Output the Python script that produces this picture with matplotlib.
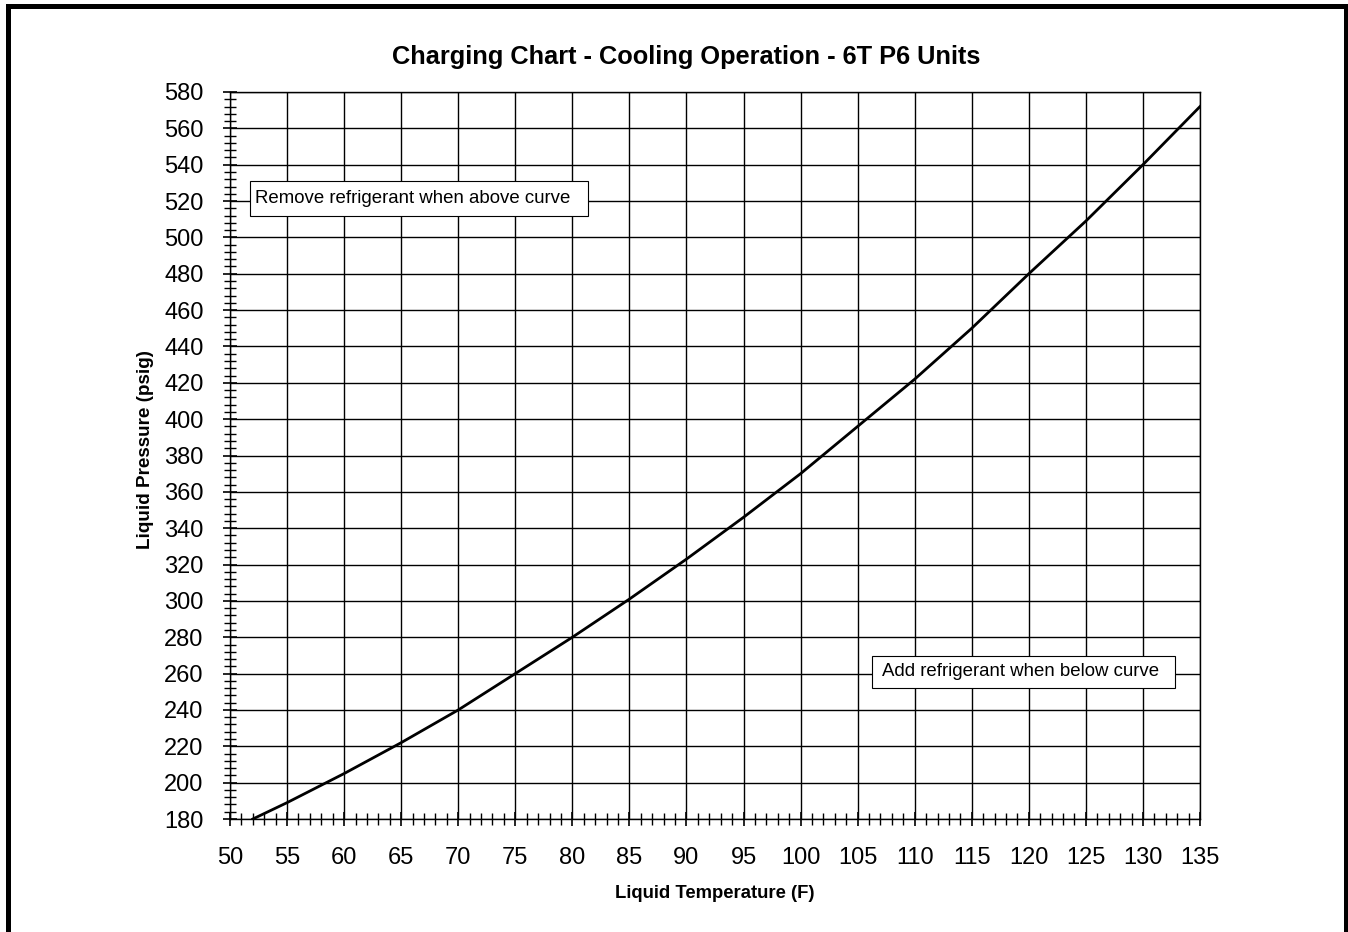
import matplotlib
matplotlib.use('Agg')
import matplotlib.pyplot as plt
from matplotlib.ticker import MultipleLocator
from matplotlib.lines import Line2D
from matplotlib.patches import Rectangle

plt.rcParams['font.family'] = ['Liberation Sans', 'DejaVu Sans']

# 数据：液体温度(F) 与 液体压力(psig)
temp_f = [52, 55, 60, 65, 70, 75, 80, 85, 90, 95, 100, 105, 110, 115, 120, 125, 130, 135]
pressure_psig = [180, 189, 205, 222, 240, 260, 280, 301, 323, 346, 370, 396, 422, 450, 480, 509, 540, 572]

x_ticks = list(range(50, 136, 5))
y_ticks = list(range(180, 581, 20))

W, H = 1348, 932
fig = plt.figure(figsize=(W / 100, H / 100), dpi=100)
ax = fig.add_axes([230 / W, 1 - 819 / H, 970 / W, 727 / H])

ax.plot(temp_f, pressure_psig, color='black', lw=2.0, zorder=3)

ax.set_xlim(50, 135)
ax.set_ylim(180, 580)
ax.set_xticks(x_ticks)
ax.set_yticks(y_ticks)
ax.xaxis.set_minor_locator(MultipleLocator(1))
ax.yaxis.set_minor_locator(MultipleLocator(4))
ax.tick_params(which='major', direction='inout', length=10, width=1.2, labelsize=17)
ax.tick_params(axis='x', which='major', pad=15)
ax.tick_params(axis='y', which='major', pad=14)
ax.tick_params(which='minor', direction='inout', length=8, width=1.0)
ax.grid(which='major', color='black', lw=1.0)
for s in ax.spines.values():
    s.set_color('black')
    s.set_linewidth(1.0)

# 标题和坐标轴标签
fig.text(686 / W, 1 - 57 / H, 'Charging Chart - Cooling Operation - 6T P6 Units',
         fontsize=18.3, fontweight='bold', ha='center', va='center')
ax.set_xlabel('Liquid Temperature (F)', fontsize=13.3, fontweight='bold', va='center')
ax.set_ylabel('Liquid Pressure (psig)', fontsize=13.6, fontweight='bold', va='center')
ax.xaxis.set_label_coords(0.5, -0.102)
ax.yaxis.set_label_coords(-0.087, 0.508)

# 注释框
ax.add_patch(Rectangle((51.75, 511.8), 29.6, 19.2, fc='white', ec='black', lw=0.8, zorder=5))
ax.text(52.2, 521.4, 'Remove refrigerant when above curve', fontsize=13.4, va='center', ha='left', zorder=6)
ax.add_patch(Rectangle((106.3, 251.9), 26.5, 17.9, fc='white', ec='black', lw=0.8, zorder=5))
ax.text(107.1, 260.9, 'Add refrigerant when below curve', fontsize=13.4, va='center', ha='left', zorder=6)

# 外框（左、上、右）
fig.add_artist(Line2D([7.5 / W, 7.5 / W, 1345.5 / W, 1345.5 / W], [0, 1 - 6 / H, 1 - 6 / H, 0],
                      transform=fig.transFigure, color='black', lw=3.6, solid_joinstyle='miter'))

fig.savefig('out.png', dpi=100)
